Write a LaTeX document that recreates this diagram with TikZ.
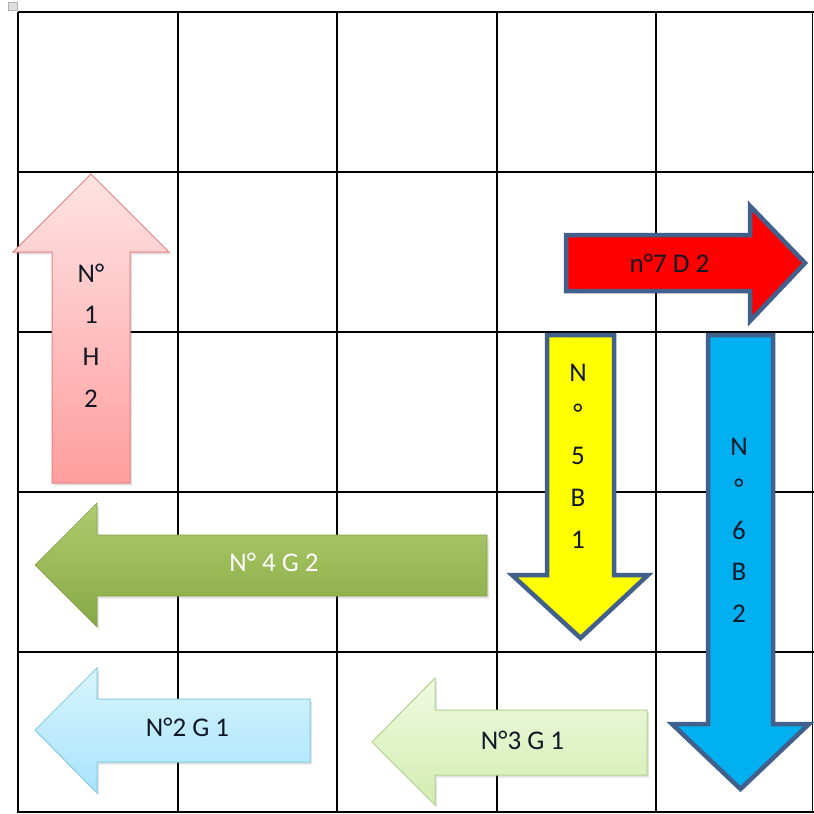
\documentclass[tikz,border=0pt]{standalone}
\usepackage{fontspec}
\setmainfont{Carlito}
\usetikzlibrary{shadows}
\definecolor{pinkTop}{HTML}{FFE3E3}
\definecolor{pinkBot}{HTML}{FF9E9E}
\definecolor{pinkLine}{HTML}{E58080}
\definecolor{navyLine}{HTML}{41608C}
\definecolor{redFill}{HTML}{FF0000}
\definecolor{yellowFill}{HTML}{FFFF00}
\definecolor{blueFill}{HTML}{00B0F0}
\definecolor{greenTop}{HTML}{AECB6E}
\definecolor{greenMid}{HTML}{9BBB59}
\definecolor{greenBot}{HTML}{86A845}
\definecolor{lblueTop}{HTML}{D8F4FF}
\definecolor{lblueBot}{HTML}{A8E4FA}
\definecolor{lblueLine}{HTML}{86CCE4}
\definecolor{lgreenTop}{HTML}{F0FAE2}
\definecolor{lgreenBot}{HTML}{D3ECB0}
\definecolor{lgreenLine}{HTML}{AFD48F}
\definecolor{txtDark}{HTML}{111827}
\tikzset{
  gridline/.style={draw=black, line width=1.8pt},
  softshadow/.style={drop shadow={opacity=0.22, shadow xshift=2pt, shadow yshift=-2.5pt}},
  strongarrow/.style={draw=navyLine, line width=4.5pt, line join=miter},
  lbl/.style={font=\fontsize{27}{41.7}\selectfont, text=txtDark, inner sep=0pt, align=center},
}
\begin{document}
\begin{tikzpicture}[x=1pt,y=-1pt]
\useasboundingbox (0,0) rectangle (814,814);
% table handle
\path[fill=gray!25, draw=gray!60, line width=0.6pt] (8,2) rectangle (17,10);
% grid
\foreach \v in {18,178,337,497,656,812.5}
  \path[gridline] (\v,12) -- (\v,812.5);
\foreach \h in {12,172,332,492,652,812}
  \path[gridline] (18,\h) -- (813.5,\h);
% arrow 1 (pink, up)
\path[softshadow, top color=pinkTop, bottom color=pinkBot, draw=pinkLine, line width=1pt]
  (52,483) -- (52,252) -- (13,252) -- (91,174) -- (169,252) -- (130,252) -- (130,483) -- cycle;
\node[lbl] (t1) at (91,335.5) {N°\\1\\H\\2};
% arrow 7 (red, right)
\path[strongarrow, fill=redFill]
  (566,235) -- (750,235) -- (750,206) -- (805,263) -- (750,321) -- (750,291) -- (566,291) -- cycle;
\node[lbl] (t7) at (669.5,263) {n°7 D 2};
% arrow 5 (yellow, down)
\path[strongarrow, fill=yellowFill]
  (547,335) -- (614,335) -- (614,575) -- (648,575) -- (580.5,638) -- (512,575) -- (547,575) -- cycle;
\node[lbl] (t5) at (578,456) {N\\°\\5\\B\\1};
% arrow 6 (blue, down)
\path[strongarrow, fill=blueFill]
  (708,335) -- (773,335) -- (773,724) -- (809,724) -- (740.5,789) -- (672,724) -- (708,724) -- cycle;
\node[lbl] (t6) at (739,530.5) {N\\°\\6\\B\\2};
% arrow 4 (green, left)
\path[softshadow, top color=greenTop, bottom color=greenBot, middle color=greenMid, draw=greenMid!85!black, line width=0.6pt]
  (487,535) -- (97,535) -- (97,503) -- (35,565) -- (97,627) -- (97,596) -- (487,596) -- cycle;
\node[lbl, text=white] (t4) at (274,562) {N° 4 G 2};
% arrow 2 (light blue, left)
\path[softshadow, top color=lblueTop, bottom color=lblueBot, draw=lblueLine, line width=1pt]
  (310,699) -- (97,699) -- (97,668) -- (35,730) -- (97,793) -- (97,762) -- (310,762) -- cycle;
\node[lbl] (t2) at (187.5,727.5) {N°2 G 1};
% arrow 3 (light green, left)
\path[softshadow, top color=lgreenTop, bottom color=lgreenBot, draw=lgreenLine, line width=1pt]
  (647,710) -- (435,710) -- (435,678) -- (372,742) -- (435,805) -- (435,775) -- (647,775) -- cycle;
\node[lbl] (t3) at (522.5,740) {N°3 G 1};
\end{tikzpicture}
\end{document}
